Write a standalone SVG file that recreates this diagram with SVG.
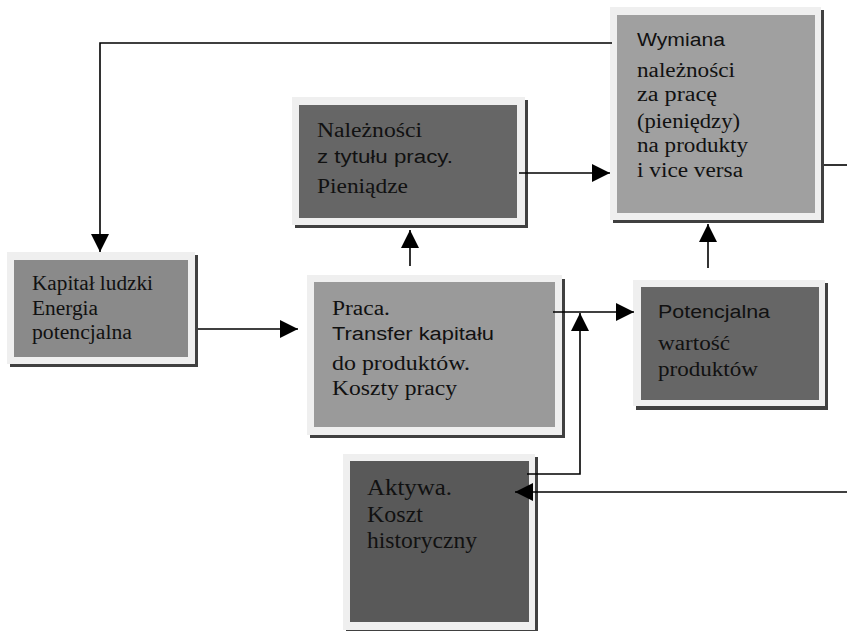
<svg xmlns="http://www.w3.org/2000/svg" width="847" height="631" viewBox="0 0 847 631">
<style>
.fr{fill:#efefef}
.sh{fill:#404040}
.s{font-family:'Liberation Serif','Times New Roman',serif;font-size:20px;fill:#111}
.a{font-family:'Liberation Sans',Arial,sans-serif;font-size:18px;fill:#111}
.c{fill:none;stroke:#000;stroke-width:1.6}
</style>
<defs>
<marker id="ar" markerUnits="userSpaceOnUse" markerWidth="18" markerHeight="18" refX="18" refY="9" orient="auto">
<path d="M0,0 L18,9 L0,18 z" fill="#000"/>
</marker>
</defs>
<rect width="847" height="631" fill="#fff"/>
<g id="kapital">
<rect class="sh" x="10" y="255" width="188" height="112"/>
<rect class="fr" x="7" y="252" width="188" height="112"/>
<rect x="14" y="260" width="174" height="97" fill="#8a8a8a"/>
<text class="s" x="32" y="290" textLength="121" lengthAdjust="spacingAndGlyphs">Kapitał ludzki</text>
<text class="s" x="32" y="315" textLength="66" lengthAdjust="spacingAndGlyphs">Energia</text>
<text class="s" x="32" y="339" textLength="100" lengthAdjust="spacingAndGlyphs">potencjalna</text>
</g>
<g id="naleznosci">
<rect class="sh" x="295" y="100" width="233" height="128"/>
<rect class="fr" x="292" y="97" width="233" height="128"/>
<rect x="299" y="105" width="218" height="113" fill="#666"/>
<text class="s" x="317" y="137" textLength="105" lengthAdjust="spacingAndGlyphs">Należności</text>
<text class="a" x="317" y="163" textLength="136" lengthAdjust="spacingAndGlyphs">z tytułu pracy.</text>
<text class="s" x="317" y="193" textLength="91" lengthAdjust="spacingAndGlyphs">Pieniądze</text>
</g>
<g id="wymiana">
<rect class="sh" x="613" y="10" width="211" height="213"/>
<rect class="fr" x="610" y="7" width="211" height="213"/>
<rect x="617" y="15" width="198" height="198" fill="#a0a0a0"/>
<text class="a" x="637" y="46" textLength="88" lengthAdjust="spacingAndGlyphs">Wymiana</text>
<text class="s" x="637" y="77" textLength="98" lengthAdjust="spacingAndGlyphs">należności</text>
<text class="s" x="637" y="101" textLength="80" lengthAdjust="spacingAndGlyphs">za pracę</text>
<text class="s" x="637" y="128" textLength="103" lengthAdjust="spacingAndGlyphs">(pieniędzy)</text>
<text class="s" x="637" y="152" textLength="111" lengthAdjust="spacingAndGlyphs">na produkty</text>
<text class="s" x="637" y="177" textLength="106" lengthAdjust="spacingAndGlyphs">i vice versa</text>
</g>
<g id="praca">
<rect class="sh" x="310" y="279" width="255" height="159"/>
<rect class="fr" x="307" y="275" width="255" height="160"/>
<rect x="314" y="282" width="241" height="145" fill="#9a9a9a"/>
<text class="s" x="332" y="315" textLength="58" lengthAdjust="spacingAndGlyphs">Praca.</text>
<text class="a" x="332" y="340" textLength="162" lengthAdjust="spacingAndGlyphs">Transfer kapitału</text>
<text class="s" x="332" y="370" textLength="138" lengthAdjust="spacingAndGlyphs">do produktów.</text>
<text class="s" x="332" y="395" textLength="125" lengthAdjust="spacingAndGlyphs">Koszty pracy</text>
</g>
<g id="potencjalna">
<rect class="sh" x="636" y="283" width="192" height="127"/>
<rect class="fr" x="633" y="280" width="192" height="126"/>
<rect x="641" y="287" width="178" height="113" fill="#666"/>
<text class="a" x="658" y="318" textLength="112" lengthAdjust="spacingAndGlyphs">Potencjalna</text>
<text class="s" x="658" y="350" textLength="72" lengthAdjust="spacingAndGlyphs">wartość</text>
<text class="s" x="658" y="376" textLength="100" lengthAdjust="spacingAndGlyphs">produktów</text>
</g>
<g id="aktywa">
<rect class="sh" x="346" y="457" width="192" height="176"/>
<rect class="fr" x="343" y="454" width="192" height="176"/>
<rect x="350" y="461" width="179" height="161" fill="#595959"/>
<text class="s" x="367" y="495" style="font-size:24px" textLength="85" lengthAdjust="spacingAndGlyphs">Aktywa.</text>
<text class="s" x="367" y="522" style="font-size:24px" textLength="56" lengthAdjust="spacingAndGlyphs">Koszt</text>
<text class="s" x="367" y="548" style="font-size:24px" textLength="110" lengthAdjust="spacingAndGlyphs">historyczny</text>
</g>
<g id="connectors">
<polyline class="c" points="612,43 100,43 100,252" marker-end="url(#ar)"/>
<line class="c" x1="198" y1="329" x2="298" y2="329" marker-end="url(#ar)"/>
<line class="c" x1="410" y1="266" x2="410" y2="230" marker-end="url(#ar)"/>
<line class="c" x1="519" y1="173" x2="610" y2="173" marker-end="url(#ar)"/>
<line class="c" x1="708" y1="268" x2="708" y2="224" marker-end="url(#ar)"/>
<line class="c" x1="824" y1="165" x2="847" y2="165"/>
<line class="c" x1="553" y1="312" x2="634" y2="312" marker-end="url(#ar)"/>
<polyline class="c" points="527,474 580,474 580,313" marker-end="url(#ar)"/>
<line class="c" x1="847" y1="492" x2="515" y2="492" marker-end="url(#ar)"/>
</g>
</svg>
